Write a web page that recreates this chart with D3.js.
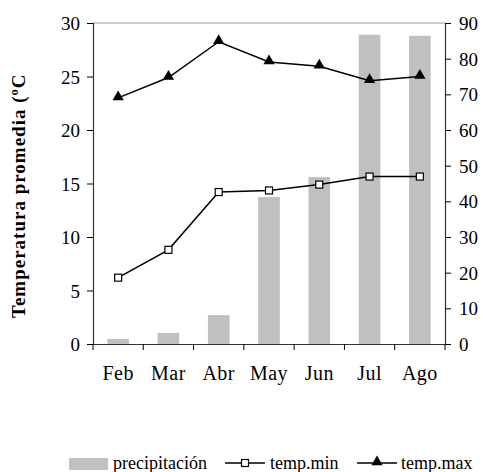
<!DOCTYPE html>
<html>
<head>
<meta charset="utf-8">
<script src="https://cdn.jsdelivr.net/npm/d3@7"></script>
<style>
body { margin: 0; background: #fff; }
svg text { font-family: "Liberation Serif", "Times New Roman", serif !important; }
</style>
</head>
<body>
<div id="chart"></div>
<script>
// data
var months = ["Feb", "Mar", "Abr", "May", "Jun", "Jul", "Ago"];
var precipitacion = [1.4, 3.1, 8.1, 41.2, 46.8, 86.7, 86.4];
var tempMin = [6.2, 8.8, 14.2, 14.35, 14.9, 15.65, 15.65];
var tempMax = [23.0, 24.9, 28.25, 26.35, 25.95, 24.6, 25.0];
var leftTicks = [0, 5, 10, 15, 20, 25, 30];
var rightTicks = [0, 10, 20, 30, 40, 50, 60, 70, 80, 90];

var svgWidth = 483;
var svgHeight = 472;

var margin = { top: 23, left: 93, right: 38, bottom: 128 };
var chartWidth = svgWidth - margin.left - margin.right;
var chartHeight = svgHeight - margin.top - margin.bottom;

var svg = d3.select("#chart")
    .append("svg")
    .attr("width", svgWidth)
    .attr("height", svgHeight);

var chartGroup = svg.append("g").attr("transform", `translate(${margin.left}, ${margin.top})`);

var xScale = d3.scaleBand().domain(months).range([0, chartWidth]);
var yLeft = d3.scaleLinear().domain([0, 30]).range([chartHeight, 0]);
var yRight = d3.scaleLinear().domain([0, 90]).range([chartHeight, 0]);

// top border of the plot area
chartGroup.append("line")
    .attr("x1", 0).attr("x2", chartWidth)
    .attr("y1", 0).attr("y2", 0)
    .attr("stroke", "#999").attr("stroke-width", 1);

// bars
var barW = xScale.bandwidth() * 0.43;
chartGroup.selectAll("rect.bar").data(precipitacion).enter().append("rect")
    .attr("class", "bar")
    .attr("x", (d, i) => xScale(months[i]) + xScale.bandwidth() / 2 - barW / 2)
    .attr("y", d => yRight(d))
    .attr("width", barW)
    .attr("height", d => chartHeight - yRight(d))
    .attr("fill", "#c0c0c0");

// axes
var leftAxis = d3.axisLeft(yLeft).tickValues(leftTicks).tickSizeOuter(0).tickSize(6).tickPadding(7);
var rightAxis = d3.axisRight(yRight).tickValues(rightTicks).tickSizeOuter(0).tickSize(6).tickPadding(8);
var bottomAxis = d3.axisBottom(xScale).tickSize(0).tickSizeOuter(0).tickPadding(22);

var gl = chartGroup.append("g").call(leftAxis);
var gr = chartGroup.append("g").attr("transform", `translate(${chartWidth}, 0)`).call(rightAxis);
var gb = chartGroup.append("g").attr("transform", `translate(0, ${chartHeight})`).call(bottomAxis);

// category separators on the bottom axis
gb.selectAll("line.sep").data(d3.range(months.length + 1)).enter().append("line")
    .attr("class", "sep")
    .attr("x1", i => i * xScale.step()).attr("x2", i => i * xScale.step())
    .attr("y1", 0).attr("y2", 6)
    .attr("stroke", "#000");

[gl, gr, gb].forEach(function(g) {
    g.attr("font-family", "Liberation Serif");
});
[gl, gr].forEach(function(g) {
    g.selectAll("text").style("font-size", "19px").attr("fill", "#000").attr("dy", "0.35em");
});
gb.selectAll("text").style("font-size", "20px").style("letter-spacing", "0.5px").attr("fill", "#000");
[gl, gr, gb].forEach(function(g) {
    g.selectAll("line").attr("stroke", "#000");
    g.select(".domain").attr("stroke", "#333").attr("stroke-width", 1.2);
});

// lines
var line = d3.line().x((d, i) => xScale(months[i]) + xScale.bandwidth() / 2).y(d => yLeft(d));
chartGroup.append("path").datum(tempMin)
    .attr("d", line).attr("fill", "none").attr("stroke", "#000").attr("stroke-width", 1.5);
chartGroup.append("path").datum(tempMax)
    .attr("d", line).attr("fill", "none").attr("stroke", "#000").attr("stroke-width", 1.5);

chartGroup.selectAll("rect.minpt").data(tempMin).enter().append("rect")
    .attr("class", "minpt")
    .attr("x", (d, i) => xScale(months[i]) + xScale.bandwidth() / 2 - 3.5)
    .attr("y", d => yLeft(d) - 3.5)
    .attr("width", 7).attr("height", 7)
    .attr("fill", "#fff").attr("stroke", "#000").attr("stroke-width", 1.2);

var tri = d3.symbol().type(d3.symbolTriangle).size(55);
chartGroup.selectAll("path.maxpt").data(tempMax).enter().append("path")
    .attr("class", "maxpt")
    .attr("d", tri)
    .attr("transform", (d, i) => `translate(${xScale(months[i]) + xScale.bandwidth() / 2}, ${yLeft(d) - 1})`)
    .attr("fill", "#000");

// y axis label (cut at the top in the original)
svg.append("text")
    .attr("transform", "translate(25, 318) rotate(-90)")
    .attr("text-anchor", "start")
    .style("font-size", "19px")
    .style("font-weight", "bold")
    .style("letter-spacing", "1px")
    .text("Temperatura promedia (ºC");

// legend
var legend = svg.append("g").attr("transform", "translate(0, 463)");
legend.append("rect").attr("x", 69).attr("y", -5).attr("width", 39).attr("height", 12).attr("fill", "#c0c0c0");
legend.append("text").attr("x", 113).attr("y", 6).style("font-size", "18px").text("precipitación");

legend.append("line").attr("x1", 225).attr("x2", 265).attr("y1", 0).attr("y2", 0).attr("stroke", "#000").attr("stroke-width", 1.5);
legend.append("rect").attr("x", 241.5).attr("y", -3.5).attr("width", 7).attr("height", 7)
    .attr("fill", "#fff").attr("stroke", "#000").attr("stroke-width", 1.2);
legend.append("text").attr("x", 270).attr("y", 6).style("font-size", "18px").text("temp.min");

legend.append("line").attr("x1", 357).attr("x2", 397).attr("y1", 0).attr("y2", 0).attr("stroke", "#000").attr("stroke-width", 1.5);
legend.append("path").attr("d", tri).attr("transform", "translate(377, -1)").attr("fill", "#000");
legend.append("text").attr("x", 401).attr("y", 6).style("font-size", "18px").text("temp.max");
</script>
</body>
</html>
